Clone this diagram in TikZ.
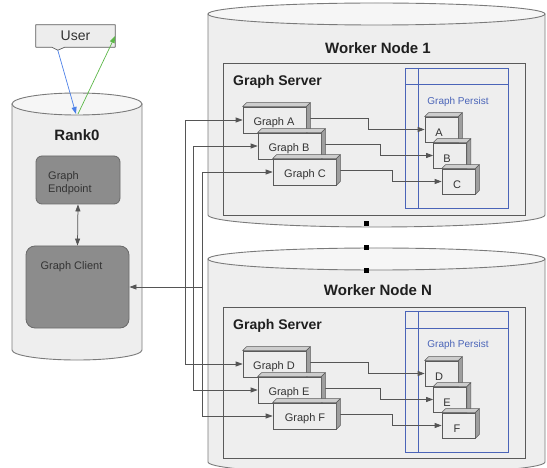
\documentclass[tikz,border=0pt]{standalone}
\usepackage{fontspec}
\setmainfont{Liberation Sans}
\usetikzlibrary{arrows.meta,calc}
\definecolor{cylfill}{HTML}{EEEEEE}
\definecolor{cyltop}{HTML}{F6F6F6}
\definecolor{cylline}{HTML}{7A7A7A}
\definecolor{boxline}{HTML}{5A5A5A}
\definecolor{boxfill}{HTML}{EDEDED}
\definecolor{darkbox}{HTML}{8C8C8C}
\definecolor{darkline}{HTML}{6A6A6A}
\definecolor{persist}{HTML}{4A64B8}
\definecolor{conncol}{HTML}{555555}
\definecolor{txt}{HTML}{333333}
\definecolor{topface}{HTML}{CDCDCD}
\definecolor{sideface}{HTML}{9E9E9E}
\definecolor{userblue}{HTML}{4A7FE8}
\definecolor{usergreen}{HTML}{5CB848}
\newcommand\boxfaces[1]{%
  \filldraw[draw=boxline, fill=topface, line width=0.6pt, line join=round]
    (#1.north west) -- ++(4,-4) -- ([shift={(4,-4)}]#1.north east) -- (#1.north east) -- cycle;
  \filldraw[draw=boxline, fill=sideface, line width=0.6pt, line join=round]
    (#1.north east) -- ++(4,-4) -- ([shift={(4,-4)}]#1.south east) -- (#1.south east) -- cycle;}
\newcommand\cylinder[7]{% x1 x2 cx yc ryt yb ryb
  \filldraw[fill=cylfill, draw=cylline, line width=0.9pt]
    (#1,#4) -- (#1,#6) arc[start angle=180, end angle=0, x radius={(#2-#1)/2}, y radius=#7] -- (#2,#4) -- cycle;
  \filldraw[fill=cyltop, draw=cylline, line width=0.9pt]
    (#3,#4) ellipse[x radius={(#2-#1)/2}, y radius=#5];}
\begin{document}
\begin{tikzpicture}[x=1pt,y=-1pt,
  gbox/.style={draw=boxline, fill=boxfill, line width=0.7pt, minimum width=63pt, minimum height=26pt, inner sep=0pt},
  pbox/.style={draw=boxline, fill=boxfill, line width=0.7pt, minimum width=33pt, minimum height=25pt, inner sep=0pt},
  lbl/.style={text=txt, inner sep=0pt, font=\fontsize{11}{13}\selectfont},
  title/.style={text=black!88, inner sep=0pt, font=\fontsize{15}{18}\selectfont\bfseries},
  sub/.style={text=black!88, inner sep=0pt, font=\fontsize{14}{17}\selectfont\bfseries},
  plbl/.style={text=persist, inner sep=0pt, font=\fontsize{10}{12}\selectfont},
  conn/.style={draw=conncol, line width=0.75pt, -{Triangle[length=7pt,width=5pt]}},
  dark/.style={draw=darkline, fill=darkbox, line width=0.8pt, inner sep=0pt},
  server/.style={draw=boxline, fill=cylfill, line width=0.8pt},
  persistbox/.style={draw=persist, fill=cylfill, line width=0.9pt},
  dotsq/.style={fill=black, minimum size=5pt, inner sep=0pt}]
\useasboundingbox (0,0) rectangle (547,468);
\fill[white] (0,0) rectangle (547,468);
\clip (0,0) rectangle (547,468);

% ---------- cylinders
\cylinder{12}{142}{77}{104}{11}{350}{10}
\cylinder{208}{545}{376.5}{14}{11}{215}{12}
\cylinder{208}{545}{376.5}{259}{11}{462}{12}

% ---------- User
\node[lbl, font=\fontsize{14}{16}\selectfont, minimum width=79pt, minimum height=22pt] (user) at (75.5,36) {User};
\filldraw[draw=boxline, fill=boxfill, line width=0.7pt, line join=round]
  (user.north west) -- (user.north east) -- (user.south east)
  -- ($(user.south west)+(29,0)$) -- ($(user.south west)+(22,3)$) -- ($(user.south west)+(16,0)$)
  -- (user.south west) -- cycle;
\node[lbl, font=\fontsize{14}{16}\selectfont] (usertext) at (user.center) {User};
\coordinate (ntip) at ($(user.south west)+(22,3)$);
\coordinate (r0) at (77,114);
\draw[userblue, line width=0.7pt, -{Triangle[length=7pt,width=5pt]}] (ntip) -- ([xshift=-1]r0);
\draw[usergreen, line width=0.7pt, -{Triangle[length=7pt,width=5pt]}] ([xshift=1]r0) -- (user.east);

% ---------- Rank0
\node[title] (rank) at (77,135) {Rank0};
\node[dark, minimum width=84pt, minimum height=48pt, rounded corners=6pt] (ge) at (78,180) {};
\node[lbl, anchor=west, align=left] (getext) at (48,183.5) {Graph\\Endpoint};
\node[dark, minimum width=103pt, minimum height=82pt, rounded corners=9pt] (gc) at (77.5,287) {};
\node[lbl] (gctext) at (71.5,267) {Graph Client};
\draw[draw=conncol, line width=0.75pt, {Triangle[length=7pt,width=5pt]}-{Triangle[length=7pt,width=5pt]}] (ge.south) -- (gc.north);

% ---------- Worker titles, servers, persist
\node[title] (w1) at (378,48) {Worker Node 1};
\node[title] (wn) at (378,290) {Worker Node N};
\draw[server] (223,63) rectangle (525,215);
\draw[server] (223,307) rectangle (525,458);
\node[sub, anchor=west] (gs1) at (233,82) {Graph Server};
\node[sub, anchor=west] (gsn) at (233,326) {Graph Server};
\draw[persistbox] (405,68) rectangle (508,208);
\draw[persist, line width=0.9pt] (418,68) -- (418,208) (405,84) -- (508,84);
\draw[persistbox] (405,311) rectangle (508,452);
\draw[persist, line width=0.9pt] (418,311) -- (418,452) (405,328) -- (508,328);
\node[plbl] (gp1) at (458,102) {Graph Persist};
\node[plbl] (gpn) at (458,345) {Graph Persist};

% ---------- separator dots
\node[dotsq] (d1) at (366,224) {};
\node[dotsq] (d2) at (366,248) {};
\node[dotsq] (d3) at (366,271) {};

% ---------- node coordinates (boxes, placed before connectors)
\path (274.5,120) node[gbox, draw=none, fill=none] (gA) {}
      (289.5,146) node[gbox, draw=none, fill=none] (gB) {}
      (304.5,172) node[gbox, draw=none, fill=none] (gC) {}
      (274.5,364) node[gbox, draw=none, fill=none] (gD) {}
      (289.5,390) node[gbox, draw=none, fill=none] (gE) {}
      (304.5,416) node[gbox, draw=none, fill=none] (gF) {}
      (441.5,129.5) node[pbox, draw=none, fill=none] (pA) {}
      (450,155.5) node[pbox, draw=none, fill=none] (pB) {}
      (458.5,181.5) node[pbox, draw=none, fill=none] (pC) {}
      (441.5,373.5) node[pbox, draw=none, fill=none] (pD) {}
      (450,399.5) node[pbox, draw=none, fill=none] (pE) {}
      (458.5,425.5) node[pbox, draw=none, fill=none] (pF) {};

% ---------- connectors
\coordinate (j1) at (185,287);
\coordinate (j2) at (193,287);
\coordinate (j3) at (202,287);
\draw[conn] (j3) -- (gc.east);
\draw[conn] (j1) |- (gA.west);
\draw[conn] (j1) |- (gD.west);
\draw[conn] (j2) |- (gB.west);
\draw[conn] (j2) |- (gE.west);
\draw[conn] (j3) |- (gC.west);
\draw[conn] (j3) |- (gF.west);
\coordinate (kA) at (368,0);
\coordinate (kB) at (380,0);
\coordinate (kC) at (392,0);
\draw[conn] ([shift={(2,-2)}]gA.east) -| (kA |- pA.west) -- (pA.west);
\draw[conn] ([shift={(2,-2)}]gB.east) -| (kB |- pB.west) -- (pB.west);
\draw[conn] ([shift={(2,-2)}]gC.east) -| (kC |- pC.west) -- (pC.west);
\draw[conn] ([shift={(2,-2)}]gD.east) -| (kA |- pD.west) -- (pD.west);
\draw[conn] ([shift={(2,-2)}]gE.east) -| (kB |- pE.west) -- (pE.west);
\draw[conn] ([shift={(2,-2)}]gF.east) -| (kC |- pF.west) -- (pF.west);

% ---------- 3D boxes
\node[gbox] (fA) at (gA) {}; \boxfaces{fA} \node[lbl] (tA) at (274,123) {Graph A};
\node[gbox] (fB) at (gB) {}; \boxfaces{fB} \node[lbl] (tB) at (289,149) {Graph B};
\node[gbox] (fC) at (gC) {}; \boxfaces{fC} \node[lbl] (tC) at (305,175) {Graph C};
\node[gbox] (fD) at (gD) {}; \boxfaces{fD} \node[lbl] (tD) at (274,367) {Graph D};
\node[gbox] (fE) at (gE) {}; \boxfaces{fE} \node[lbl] (tE) at (289,393) {Graph E};
\node[gbox] (fF) at (gF) {}; \boxfaces{fF} \node[lbl] (tF) at (305,419) {Graph F};
\node[pbox] (qA) at (pA) {}; \boxfaces{qA} \node[lbl] (sA) at (439,133) {A};
\node[pbox] (qB) at (pB) {}; \boxfaces{qB} \node[lbl] (sB) at (447,159) {B};
\node[pbox] (qC) at (pC) {}; \boxfaces{qC} \node[lbl] (sC) at (457,185) {C};
\node[pbox] (qD) at (pD) {}; \boxfaces{qD} \node[lbl] (sD) at (439,377) {D};
\node[pbox] (qE) at (pE) {}; \boxfaces{qE} \node[lbl] (sE) at (447,403) {E};
\node[pbox] (qF) at (pF) {}; \boxfaces{qF} \node[lbl] (sF) at (457,429) {F};
\end{tikzpicture}
\end{document}
